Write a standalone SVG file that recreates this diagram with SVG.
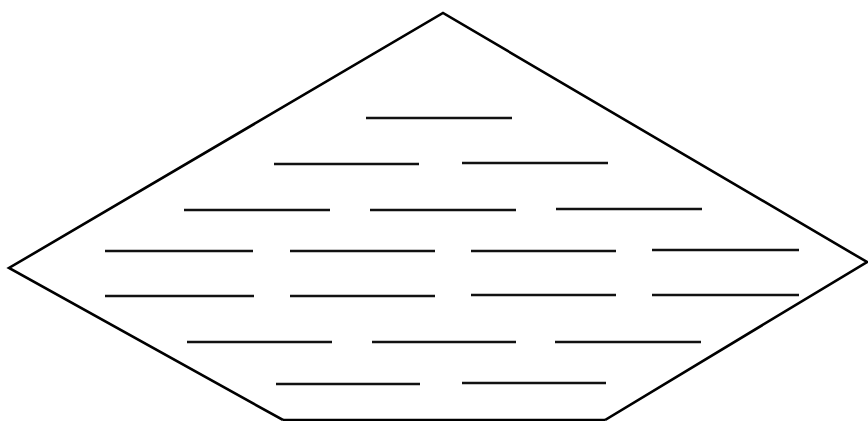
<svg xmlns="http://www.w3.org/2000/svg" width="868" height="421" viewBox="0 0 868 421">
<style>
.outline{fill:none;stroke:#000;stroke-width:2.6;stroke-linejoin:miter}
.hl{stroke:#111;stroke-width:2.6;stroke-linecap:butt}
</style>
<rect width="868" height="421" fill="#fff"/>
<g id="outline">
<polyline class="outline" points="283,420 9,268 443,13 867,262 605,420"/>
<line class="outline" x1="283" y1="420" x2="605" y2="420"/>
</g>
<g id="lines">
<line class="hl" x1="366" y1="118" x2="512" y2="118"/>
<line class="hl" x1="274" y1="164" x2="419" y2="164"/>
<line class="hl" x1="462" y1="163" x2="608" y2="163"/>
<line class="hl" x1="184" y1="210" x2="330" y2="210"/>
<line class="hl" x1="370" y1="210" x2="516" y2="210"/>
<line class="hl" x1="556" y1="209" x2="702" y2="209"/>
<line class="hl" x1="105" y1="251" x2="253" y2="251"/>
<line class="hl" x1="290" y1="251" x2="435" y2="251"/>
<line class="hl" x1="471" y1="251" x2="616" y2="251"/>
<line class="hl" x1="652" y1="250" x2="799" y2="250"/>
<line class="hl" x1="105" y1="296" x2="254" y2="296"/>
<line class="hl" x1="290" y1="296" x2="435" y2="296"/>
<line class="hl" x1="471" y1="295" x2="616" y2="295"/>
<line class="hl" x1="652" y1="295" x2="799" y2="295"/>
<line class="hl" x1="187" y1="342" x2="332" y2="342"/>
<line class="hl" x1="372" y1="342" x2="516" y2="342"/>
<line class="hl" x1="555" y1="342" x2="701" y2="342"/>
<line class="hl" x1="276" y1="384" x2="420" y2="384"/>
<line class="hl" x1="462" y1="383" x2="606" y2="383"/>
</g>
</svg>
